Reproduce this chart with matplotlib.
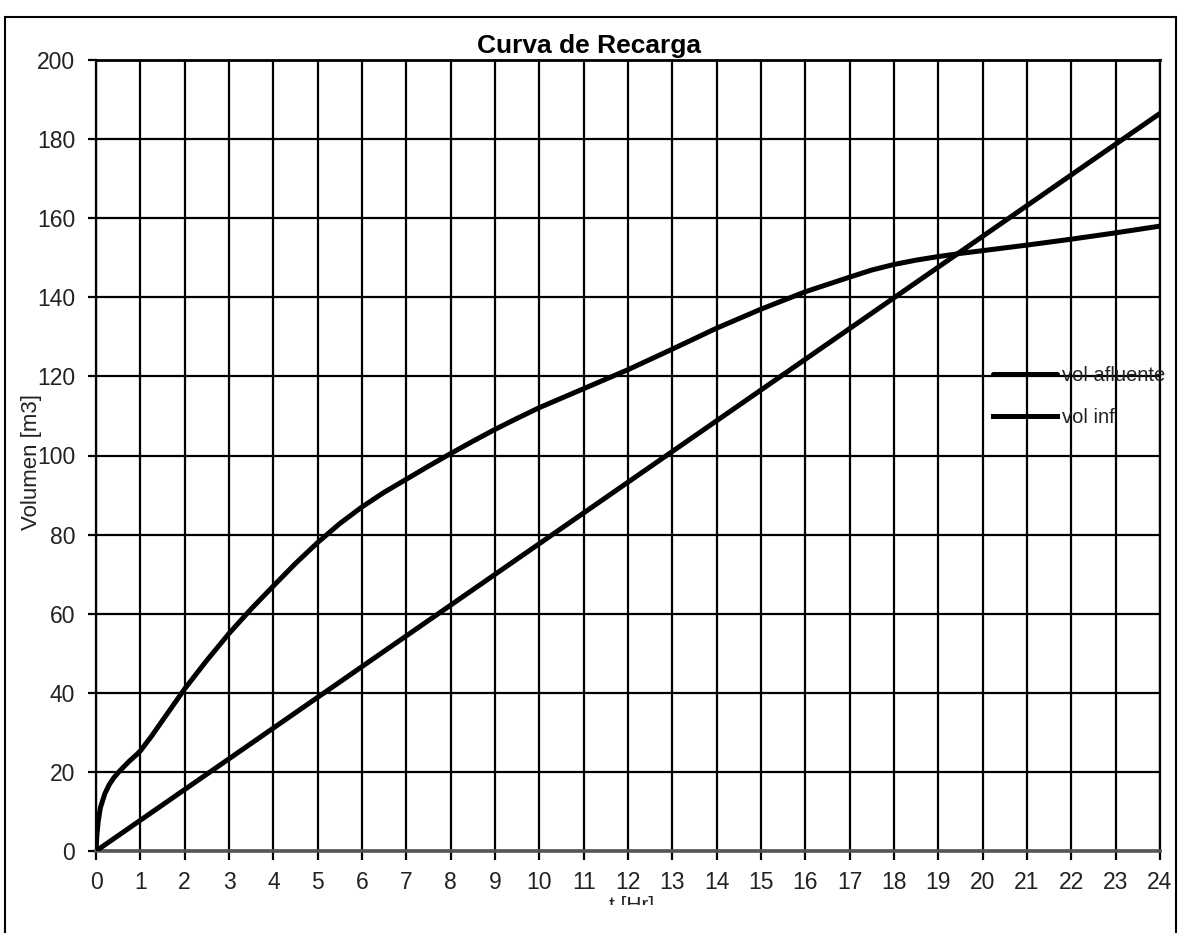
import matplotlib
matplotlib.use("Agg")
import matplotlib.pyplot as plt
from matplotlib.patches import Rectangle

# Data
t_afl = [0, 0.02, 0.05, 0.1, 0.2, 0.3, 0.4, 0.5, 0.6, 0.75, 0.9, 1.0, 1.25, 1.5, 1.75, 2, 2.5, 3, 3.5, 4,
         4.5, 5, 5.5, 6, 6.5, 7, 7.5, 8, 8.5, 9, 9.5, 10, 11, 12, 13, 14, 15, 16, 17, 17.5, 18, 18.5, 19,
         19.5, 20, 21, 22, 23, 24]
vol_afl = [0, 4, 7.5, 11, 14.5, 16.8, 18.5, 19.8, 21, 22.7, 24.2, 25.3, 29, 33, 37, 41, 48.2, 55, 61.2, 67,
           72.7, 78, 82.8, 87, 90.7, 94, 97.3, 100.5, 103.6, 106.6, 109.4, 112.1, 116.9, 121.7, 126.9,
           132.2, 137, 141.4, 145.1, 146.9, 148.3, 149.4, 150.3, 151.1, 151.8, 153.2, 154.7, 156.3, 158]
t_inf = [0, 24]
vol_inf = [0, 186.5]
xticks = list(range(0, 25))
yticks = list(range(0, 201, 20))

FONT = 'Liberation Sans'
W, H = 1179, 933

fig = plt.figure(figsize=(W/100, H/100), dpi=100)
ax = fig.add_axes([96/W, 1-851/H, (1160-96)/W, (851-60)/H])

ax.plot(t_afl, vol_afl, color='black', linewidth=3.6, label='vol afluente', zorder=3,
        solid_capstyle='round', solid_joinstyle='round')
ax.plot(t_inf, vol_inf, color='black', linewidth=3.6, label='vol inf', zorder=3)

ax.set_xlim(0, 24)
ax.set_ylim(0, 200)
ax.set_xticks(xticks)
ax.set_yticks(yticks)
ax.grid(True, color='black', linewidth=1.6)
ax.set_axisbelow(True)
for s in ax.spines.values():
    s.set_color('black')
    s.set_linewidth(1.6)
ax.spines['bottom'].set_color('#555555')
ax.spines['bottom'].set_linewidth(2.6)
ax.spines['top'].set_linewidth(2)
ax.tick_params(axis='x', direction='out', length=6.5, width=1.6, color='black', pad=8)
ax.tick_params(axis='y', direction='out', length=6, width=1.6, color='black', pad=9)
for lbl in ax.get_xticklabels() + ax.get_yticklabels():
    lbl.set_family(FONT)
    lbl.set_fontsize(16.5)
    lbl.set_color('#222222')

fig.text(589/W, 1-46/H, 'Curva de Recarga', ha='center', va='center',
         fontsize=19, fontweight='bold', family=FONT)
fig.text(32/W, 1-462/H, 'Volumen [m3]', rotation=90, ha='center', va='center',
         fontsize=16, family=FONT, color='#222222')
fig.text(632/W, 1-896/H, 't [Hr]', ha='center', va='top', fontsize=15, family=FONT, color='#222222')

# white-out the lower part (chart is cut off at the bottom in the reference)
fig.patches.append(Rectangle((7/W, 0), (1174-7)/W, 1-905/H, transform=fig.transFigure,
                             facecolor='white', edgecolor='none', zorder=10))
# outer border
fig.patches.append(Rectangle((5/W, -0.01), (1176-5)/W, 1-17/H+0.01, transform=fig.transFigure,
                             fill=False, edgecolor='black', linewidth=1.5, zorder=11))

leg = ax.legend(loc='upper left', bbox_to_anchor=((993-96)/1064, (851-366)/791),
                frameon=False, fontsize=14.5, handlelength=3.2, handletextpad=0.25,
                labelspacing=1.15, borderaxespad=0, borderpad=0)
for txt in leg.get_texts():
    txt.set_family(FONT)
    txt.set_color('#222222')

fig.savefig('out.png', dpi=100)
